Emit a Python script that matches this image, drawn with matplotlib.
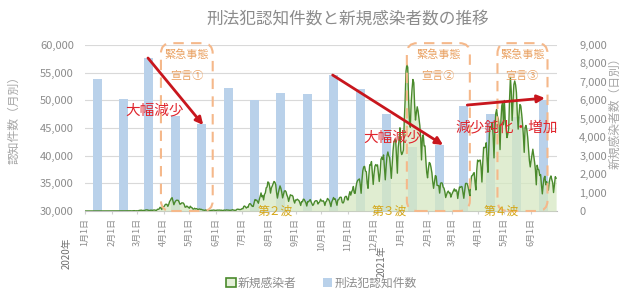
import numpy as np
import pandas as pd
import matplotlib
matplotlib.use('Agg')
import matplotlib.pyplot as plt
import matplotlib.dates as mdates
from matplotlib.patches import FancyBboxPatch, Patch

plt.rcParams['font.family'] = ['Noto Sans CJK JP', 'DejaVu Sans']

# monthly recognised penal code offences (left axis)
months = pd.date_range('2020-01-01', '2021-06-01', freq='MS')
crimes = [53900, 50200, 57600, 47100, 45700, 52300, 50000, 51300, 51200,
          54500, 52100, 47500, 41500, 42000, 49000, 47500, 47000, 50000]

# daily new infections (right axis), one list per month
cases_2020 = [
    [0, 0, 0, 0, 0, 0, 0, 0, 0, 0, 0, 0, 0, 0, 1, 0, 0, 0, 0, 0, 0, 0, 0, 1, 1, 1, 0, 1, 3, 4, 3],
    [3, 2, 0, 3, 1, 0, 1, 1, 0, 0, 0, 1, 1, 6, 8, 5, 6, 7, 3, 8, 9, 14, 11, 5, 9, 13, 18, 14, 6],
    [13, 6, 15, 35, 31, 50, 31, 28, 33, 26, 52, 56, 64, 40, 42, 22, 45, 44, 33, 43, 56, 49, 35, 37, 96, 91, 113, 200, 173, 81, 233],
    [225, 265, 350, 370, 350, 250, 350, 510, 580, 680, 720, 520, 340, 460, 540, 585, 580, 580, 490, 370, 380, 440, 440, 430, 350, 210, 210, 270, 230, 190],
    [150, 260, 200, 180, 110, 100, 150, 110, 130, 110, 80, 100, 110, 80, 90, 60, 50, 40, 35, 60, 35, 30, 25, 20, 20, 40, 35, 40, 50, 40, 35],
    [30, 50, 45, 50, 50, 40, 45, 30, 30, 45, 50, 40, 60, 50, 50, 40, 40, 40, 50, 70, 50, 40, 40, 40, 90, 100, 90, 80, 80, 90],
    [130, 120, 250, 270, 220, 160, 210, 200, 350, 400, 380, 300, 250, 250, 450, 620, 590, 590, 510, 420, 630, 790, 980, 770, 840, 600, 900, 980, 1260, 1300, 1580],
    [1530, 1330, 970, 1250, 1350, 1480, 1600, 1560, 1440, 1000, 700, 960, 1180, 1360, 1230, 1020, 710, 900, 1080, 1100, 1040, 860, 750, 520, 700, 880, 840, 850, 790, 560, 430],
    [600, 590, 640, 600, 560, 450, 300, 510, 500, 640, 630, 530, 440, 270, 510, 500, 560, 620, 500, 400, 300, 360, 500, 550, 560, 540, 380, 450, 500, 640],
    [550, 530, 560, 480, 300, 490, 540, 680, 630, 570, 420, 240, 500, 600, 730, 630, 660, 480, 310, 600, 610, 720, 750, 740, 480, 430, 500, 740, 790, 790, 610],
    [600, 870, 1050, 860, 1040, 1140, 1330, 990, 950, 1290, 1540, 1660, 1700, 1740, 1430, 960, 1690, 2200, 2390, 2420, 2170, 2130, 1520, 1230, 1950, 2510, 2500, 2680, 2050, 1440],
    [2030, 2430, 2520, 2440, 2500, 2020, 1600, 2060, 2800, 2920, 2790, 3040, 2400, 1690, 2420, 3000, 3200, 2990, 2900, 2390, 1770, 2500, 3270, 3740, 3840, 3860, 2950, 2050, 3450, 3850, 4510],
]
cases_2021 = [
    [3260, 3060, 3150, 3300, 4900, 6000, 7570, 7950, 7790, 6090, 4870, 4540, 5870, 6600, 7130, 6960, 5760, 4930, 5320, 5650, 5420, 5010, 4640, 3980, 2770, 3960, 4130, 3530, 3530, 2750, 2100],
    [1800, 2320, 2630, 2580, 2360, 2070, 1580, 1230, 1560, 1920, 1880, 1390, 1380, 1370, 970, 1500, 1530, 1510, 1300, 1240, 1050, 730, 880, 1020, 1080, 980, 990, 750],
    [890, 1000, 1100, 1200, 1070, 1150, 1060, 680, 1040, 1300, 1280, 1330, 1310, 990, 690, 1100, 1490, 1500, 1470, 1300, 1080, 790, 1510, 1900, 1920, 2020, 2080, 1560, 1140, 2220, 2760],
    [2680, 2740, 2760, 2400, 1570, 2650, 3450, 3430, 3460, 3700, 2780, 2100, 3460, 4560, 4570, 4530, 4800, 4070, 2880, 4340, 5290, 5500, 5120, 5000, 4600, 3330, 4890, 5710, 5900, 4680],
    [5990, 4920, 4420, 3980, 4170, 4460, 6040, 7240, 6470, 4900, 5910, 6850, 7050, 6840, 6420, 5250, 4440, 5250, 5770, 5700, 5280, 4770, 4110, 3180, 4520, 4640, 4410, 4010, 3360, 2740, 2390],
    [2740, 3040, 3350, 3000, 2660, 2220, 1420, 2480, 2270, 2220, 1920, 1970, 1390, 930, 1440, 1780, 1880, 1420, 1590, 1380, 1130, 1570, 1790, 1900, 1700, 1530, 1000, 1400, 1860, 1780],
]
cases = [v for m in cases_2020 + cases_2021 for v in m]
days = pd.date_range('2020-01-01', periods=len(cases), freq='D')

# emergency declarations (start, end)
emergencies = [('2020-03-29', '2020-05-28', '宣言①'),
               ('2021-01-08', '2021-03-22', '宣言②'),
               ('2021-04-23', '2021-06-20', '宣言③')]

gray = '#8c8c8c'
fig = plt.figure(figsize=(6.24, 2.93), dpi=100)
ax = fig.add_axes([85 / 624, 1 - 211 / 293, 472 / 624, 166 / 293])

bar_x = months + pd.Timedelta(days=14)
ax.bar(bar_x, crimes, width=10.5, color='#b9d1ea', zorder=2)
ax.set_ylim(30000, 60000)
ax.set_yticks(range(30000, 60001, 5000))
ax.set_yticklabels([f'{v:,}' for v in range(30000, 60001, 5000)])
ax.grid(axis='y', color='#d9d9d9', lw=0.8, zorder=0)
ax.set_axisbelow(True)
ax.set_xlim(pd.Timestamp('2020-01-01'), pd.Timestamp('2021-07-01'))
ax.set_xticks(months)
ax.set_xticklabels([f'{d.month}月1日' for d in months], rotation=90, fontsize=6.5, color=gray)
ax.tick_params(axis='x', length=2, color='#d0d0d0', pad=3)
ax.tick_params(axis='y', length=0, labelsize=8, labelcolor=gray, pad=8)
for s in ['left', 'right', 'top']:
    ax.spines[s].set_visible(False)
ax.spines['bottom'].set_color('#bfbfbf')

ax2 = ax.twinx()
ax2.fill_between(days, cases, color='#d6e8c2', alpha=0.75, lw=0)
ax2.plot(days, cases, color='#4a8a2c', lw=1.0)
ax2.set_ylim(0, 9000)
ax2.set_yticks(range(0, 9001, 1000))
ax2.set_yticklabels([f'{v:,}' for v in range(0, 9001, 1000)])
ax2.tick_params(axis='y', length=0, labelsize=8, labelcolor=gray, pad=16)
for s in ['left', 'right', 'top', 'bottom']:
    ax2.spines[s].set_visible(False)

# emergency declaration boxes
orange = '#e9a060'
for start, end, label in emergencies:
    x0 = mdates.date2num(pd.Timestamp(start))
    x1 = mdates.date2num(pd.Timestamp(end))
    box = FancyBboxPatch((x0, 0), x1 - x0, 9100,
                         boxstyle='round,pad=0,rounding_size=12', mutation_aspect=46.8,
                         fill=False, ec='#f5b88a', lw=1.5, ls=(0, (5, 3.5)), clip_on=False, zorder=5)
    ax2.add_patch(box)
    xc = pd.Timestamp(start) + (pd.Timestamp(end) - pd.Timestamp(start)) / 2
    ax2.text(xc, 8450, '緊急事態', ha='center', va='center', fontsize=8, color=orange, zorder=6)
    ax2.text(xc, 7300, label, ha='center', va='center', fontsize=8, color=orange, zorder=6)

# trend arrows and comments
red = '#c8161d'
arrows = [(('2020-03-14', 8295), ('2020-05-17', 4660)),
          (('2020-10-14', 7370), ('2021-02-19', 3580)),
          (('2021-03-19', 5745), ('2021-06-17', 6125))]
for (sx, sy), (ex, ey) in arrows:
    ax2.annotate('', xy=(pd.Timestamp(ex), ey), xytext=(pd.Timestamp(sx), sy),
                 arrowprops=dict(arrowstyle='-|>', color=red, lw=2, mutation_scale=11,
                                 shrinkA=0, shrinkB=0), zorder=7)
comments = [('2020-03-22', 5475, '大幅減少'), ('2020-12-22', 4010, '大幅減少'),
            ('2021-05-04', 4550, '減少鈍化・増加')]
for x, y, t in comments:
    ax2.text(pd.Timestamp(x), y, t, ha='center', va='center', fontsize=10.5, color='#e0262e', zorder=8)

waves = [('2020-08-08', '第２波'), ('2020-12-19', '第３波'), ('2021-04-27', '第４波')]
for x, t in waves:
    ax2.text(pd.Timestamp(x), 0, t, ha='center', va='center', fontsize=8.5, color='#d4a514',
             zorder=8, clip_on=False)

# year labels
fig.text(67 / 624, 1 - 253 / 293, '2020年', rotation=90, ha='center', va='center', fontsize=7, color='#707070')
fig.text(382 / 624, 1 - 261 / 293, '2021年', rotation=90, ha='center', va='center', fontsize=7, color='#707070')

fig.text(348 / 624, 1 - 19 / 293, '刑法犯認知件数と新規感染者数の推移', ha='center', va='center',
         fontsize=12, color=gray)
fig.text(14 / 624, 1 - 117 / 293, '認知件数（月別）', rotation=90, ha='center', va='center',
         fontsize=8.5, color='#a6a6a6')
fig.text(615 / 624, 1 - 110 / 293, '新規感染者数（日別）', rotation=90, ha='center', va='center',
         fontsize=8.5, color='#a6a6a6')

handles = [Patch(facecolor='#e4f0d8', edgecolor='#4a8a2c', lw=1.2), Patch(facecolor='#b9d1ea')]
fig.legend(handles, ['新規感染者', '刑法犯認知件数'], loc='center', bbox_to_anchor=(0.515, 0.034),
           ncol=2, frameon=False, fontsize=8.5, handlelength=0.8, handleheight=0.8,
           handletextpad=0.2, columnspacing=2.2, labelcolor=gray)

fig.savefig('out.png', dpi=100)
